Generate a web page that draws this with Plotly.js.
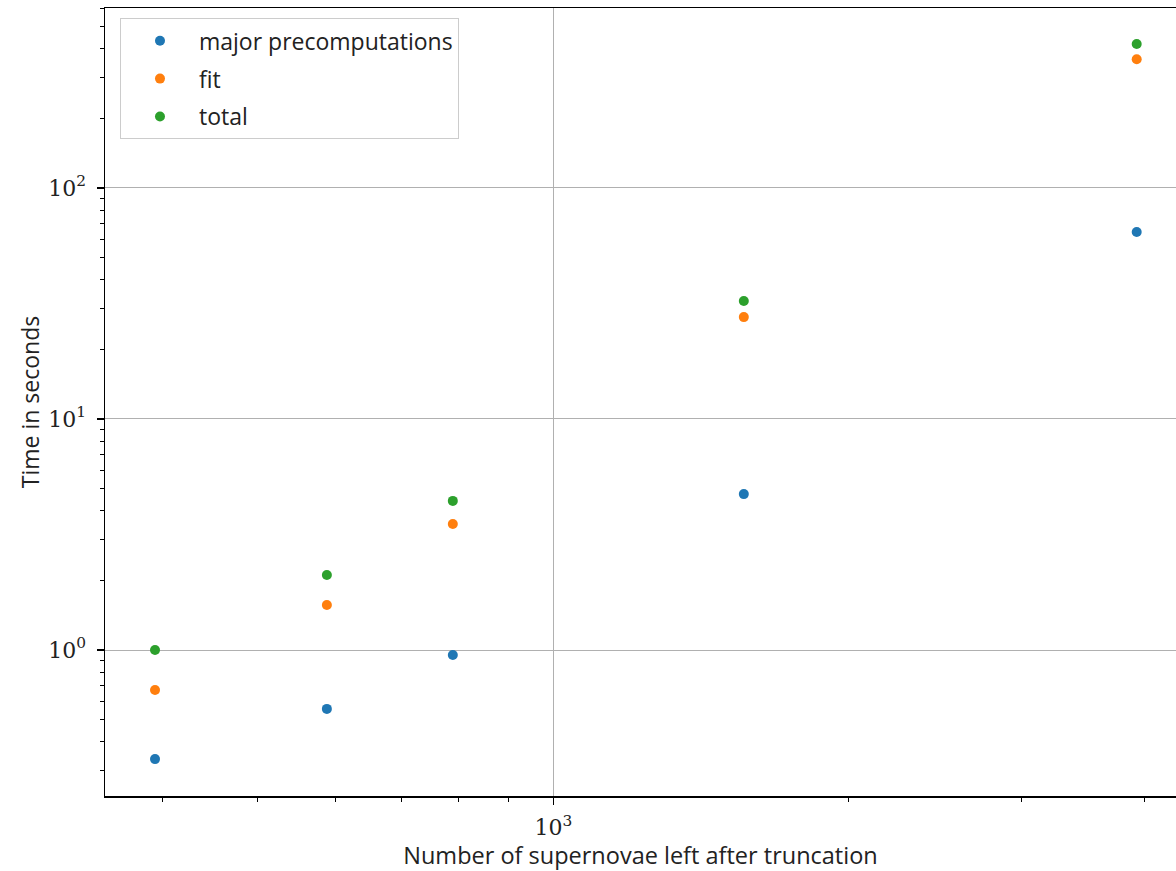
<!DOCTYPE html>
<html>
<head>
<meta charset="utf-8">
<script src="https://cdn.plot.ly/plotly-3.0.1.min.js"></script>
<style>html,body{margin:0;padding:0;background:#fff;}#chart{width:1176px;height:871px;}</style>
</head>
<body>
<div id="chart"></div>
<script>
// Number of supernovae left after truncation
const nSupernovae = [393, 588, 790, 1563, 3927];
// Time in seconds
const majorPrecomputations = [0.337, 0.556, 0.951, 4.73, 64.5];
const fitTime = [0.671, 1.566, 3.51, 27.6, 361];
const totalTime = [1.0, 2.11, 4.42, 32.4, 420];
const seriesNames = ["major precomputations", "fit", "total"];
const seriesColors = ["#1f77b4", "#ff7f0e", "#2ca02c"];
const xMajorTicks = [1000];
const xMajorLabels = ["10<sup>3</sup>"];
const xMinorTicks = [400, 500, 600, 700, 800, 900, 2000, 3000, 4000];
const yMajorTicks = [1, 10, 100];
const yMajorLabels = ["10<sup>0</sup>", "10<sup>1</sup>", "10<sup>2</sup>"];
const yMinorTicks = [0.3, 0.4, 0.5, 0.6, 0.7, 0.8, 0.9, 2, 3, 4, 5, 6, 7, 8, 9, 20, 30, 40, 50, 60, 70, 80, 90, 200, 300, 400, 500, 600];

const sansFont = "Open Sans, DejaVu Sans, sans-serif";
const serifFont = "DejaVu Serif, Liberation Serif, serif";

const seriesValues = [majorPrecomputations, fitTime, totalTime];
const traces = seriesValues.map((vals, i) => ({
  x: nSupernovae,
  y: vals,
  type: "scatter",
  mode: "markers",
  name: seriesNames[i],
  legendgroup: "g" + i,
  marker: {color: seriesColors[i], size: 10},
  cliponaxis: false
}));

const layout = {
  width: 1176,
  height: 871,
  margin: {l: 105, r: 0, t: 8, b: 75},
  paper_bgcolor: "#fff",
  plot_bgcolor: "#fff",
  showlegend: true,
  legend: {
    x: 0.014, y: 0.987, xanchor: "left", yanchor: "top",
    bgcolor: "rgba(255,255,255,0.8)", bordercolor: "#cccccc", borderwidth: 1,
    font: {family: sansFont, size: 23, color: "#222"},
    itemwidth: 68,
    tracegroupgap: 5
  },
  xaxis: {
    type: "log",
    range: [Math.log10(349.5), Math.log10(4306)],
    tickmode: "array", tickvals: xMajorTicks, ticktext: xMajorLabels,
    ticks: "outside", ticklen: 7, tickwidth: 1.2, tickcolor: "#000",
    ticklabelstandoff: 4,
    showgrid: true, gridcolor: "#b0b0b0", gridwidth: 1,
    showline: true, linecolor: "#000", linewidth: 1.5, mirror: true,
    zeroline: false,
    tickfont: {family: serifFont, size: 22, color: "#222"},
    minor: {tickmode: "array", tickvals: xMinorTicks, ticks: "outside", ticklen: 4, tickwidth: 1, tickcolor: "#000", showgrid: false},
    title: {text: "Number of supernovae left after truncation", font: {family: sansFont, size: 23.5, color: "#222"}, standoff: 5}
  },
  yaxis: {
    type: "log",
    range: [-0.632, 2.779],
    tickmode: "array", tickvals: yMajorTicks, ticktext: yMajorLabels,
    ticks: "outside", ticklen: 7, tickwidth: 1.2, tickcolor: "#000",
    ticklabelstandoff: 6,
    showgrid: true, gridcolor: "#b0b0b0", gridwidth: 1,
    showline: true, linecolor: "#000", linewidth: 1.5, mirror: false,
    zeroline: false,
    tickfont: {family: serifFont, size: 22, color: "#222"},
    minor: {tickmode: "array", tickvals: yMinorTicks, ticks: "outside", ticklen: 4, tickwidth: 1, tickcolor: "#000", showgrid: false},
    title: {text: "Time in seconds", font: {family: sansFont, size: 23, color: "#222"}, standoff: 2}
  }
};

Plotly.newPlot("chart", traces, layout, {displayModeBar: false, staticPlot: true});
</script>
</body>
</html>
